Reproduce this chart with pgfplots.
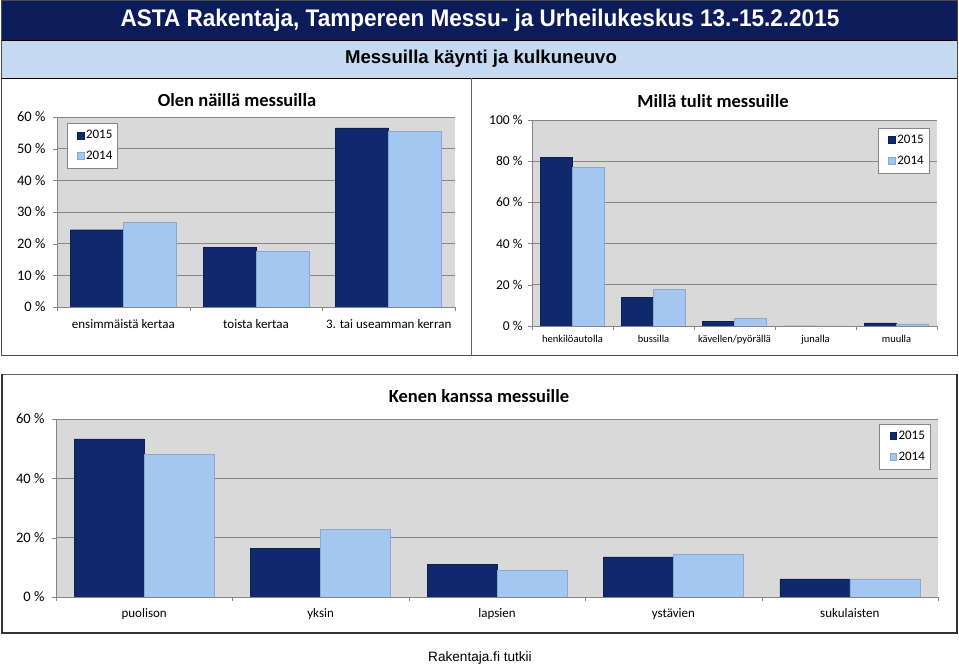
\documentclass[border=0pt]{standalone}
\usepackage{fontspec}
\setmainfont{Carlito}
\newfontfamily\arialn[FakeStretch=0.94]{Liberation Sans}
\newfontfamily\arial{Liberation Sans}
\usepackage{pgfplots}
\pgfplotsset{compat=1.18}
\definecolor{navy}{RGB}{12,28,90}
\definecolor{lband}{RGB}{197,217,241}
\definecolor{cA}{RGB}{16,40,108}
\definecolor{cB}{RGB}{163,199,240}
\definecolor{pgray}{RGB}{217,217,217}
\definecolor{ggray}{RGB}{134,134,134}
\pgfplotsset{
  excel/.style={
    anchor=south west, scale only axis,
    ybar=0pt,
    axis background/.style={fill=pgray},
    axis lines*=left, axis line style={draw=ggray,-},
    ymajorgrids, grid style={draw=ggray, line width=0.8pt},
    tick align=outside, major tick length=4pt,
    tick style={draw=ggray},
    xticklabels={},
    extra x tick style={major tick length=0pt},
    legend image code/.code={\path (0pt,0pt); \fill[##1] (7pt,-3.5pt) rectangle (13.5pt,3.5pt);},
    legend style={draw=ggray, fill=white, row sep=7pt, inner xsep=3pt, inner ysep=5pt,
      cells={anchor=west}},
  },
  s15/.style={fill=cA, draw=cA!80!black},
  s14/.style={fill=cB, draw=cB!85!black},
}
\begin{document}
\begin{tikzpicture}[x=1pt,y=1pt]
\path[use as bounding box] (0,0) rectangle (959,666);
\fill[white] (0,0) rectangle (959,666);
% upper panel
\fill[navy] (1,626) rectangle (957.5,665.5);
\fill[lband] (1,588) rectangle (957.5,626);
\draw[black, line width=0.8pt] (1,626)--(957.5,626) (1,588)--(957.5,588);
\draw[black!70, line width=1pt] (1,310) rectangle (957.5,665.5);
\draw[black!60, line width=0.8pt] (471,588)--(471,310);
\node[white, font=\arialn\bfseries\fontsize{24}{28}\selectfont] at (480,646) {ASTA Rakentaja, Tampereen Messu- ja Urheilukeskus 13.-15.2.2015};
\node[font=\arial\bfseries\fontsize{18.6}{20}\selectfont] at (481,607) {Messuilla käynti ja kulkuneuvo};
% lower panel
\draw[black!60, line width=0.8pt] (2,292) -- (957,292);
\draw[black!80, line width=1.5pt] (2,292) -- (2,33) -- (957,33) -- (957,292);
\node[font=\arial\fontsize{13.6}{16}\selectfont] at (480,8) {Rakentaja.fi tutkii};
% titles
\node[font=\bfseries\fontsize{18.5}{20}\selectfont] at (237,566) {Olen näillä messuilla};
\node[font=\bfseries\fontsize{18.5}{20}\selectfont] at (713,565) {Millä tulit messuille};
\node[font=\bfseries\fontsize{18.5}{20}\selectfont] at (479,270) {Kenen kanssa messuille};

% left chart
\begin{axis}[excel, at={(57pt,359pt)}, width=398pt, height=190pt,
  bar width=53pt, xmin=-0.5, xmax=2.5, ymin=0, ymax=60,
  ytick={0,10,...,60}, yticklabels={0 \%,10 \%,20 \%,30 \%,40 \%,50 \%,60 \%},
  xtick={-0.5,0.5,1.5,2.5},
  extra x ticks={0,1,2},
  extra x tick labels={ensimmäistä kertaa, toista kertaa, 3. tai useamman kerran},
  yticklabel style={font=\fontsize{14.5}{15}\selectfont, xshift=-4pt},
  xticklabel style={font=\fontsize{13}{14}\selectfont, yshift=-9pt},
  legend style={at={(0.025,0.968)}, anchor=north west, font=\fontsize{13}{14}\selectfont},
]
\addplot[s15] coordinates {(0,24.4) (1,18.9) (2,56.6)};
\addplot[s14] coordinates {(0,26.9) (1,17.6) (2,55.5)};
\legend{2015\hspace{5pt},2014\hspace{5pt}}
\end{axis}

% right chart
\begin{axis}[excel, at={(532pt,340pt)}, width=405pt, height=206pt,
  bar width=32pt, xmin=-0.5, xmax=4.5, ymin=0, ymax=100,
  ytick={0,20,...,100}, yticklabels={0 \%,20 \%,40 \%,60 \%,80 \%,100 \%},
  xtick={-0.5,0.5,1.5,2.5,3.5,4.5},
  extra x ticks={0,1,2,3,4},
  extra x tick labels={henkilöautolla, bussilla, kävellen/pyörällä, junalla, muulla},
  yticklabel style={font=\fontsize{13.5}{14}\selectfont, xshift=-2pt},
  xticklabel style={font=\fontsize{10.5}{12}\selectfont, yshift=-6pt},
  legend style={at={(0.98,0.961)}, anchor=north east, font=\fontsize{13}{14}\selectfont},
]
\addplot[s15] coordinates {(0,81.9) (1,13.8) (2,2.4) (3,0) (4,1.5)};
\addplot[s14] coordinates {(0,76.9) (1,17.8) (2,3.6) (3,0) (4,1.1)};
\legend{2015\hspace{5pt},2014\hspace{5pt}}
\end{axis}

% bottom chart
\begin{axis}[excel, at={(56pt,69pt)}, width=882pt, height=178pt,
  bar width=70pt, xmin=-0.5, xmax=4.5, ymin=0, ymax=60,
  ytick={0,20,40,60}, yticklabels={0 \%,20 \%,40 \%,60 \%},
  xtick={-0.5,0.5,1.5,2.5,3.5,4.5},
  extra x ticks={0,1,2,3,4},
  extra x tick labels={puolison, yksin, lapsien, ystävien, sukulaisten},
  yticklabel style={font=\fontsize{14.5}{15}\selectfont, xshift=-4pt},
  xticklabel style={font=\fontsize{13}{14}\selectfont, yshift=-8pt},
  legend style={at={(0.991,0.972)}, anchor=north east, font=\fontsize{13}{14}\selectfont},
]
\addplot[s15] coordinates {(0,53.3) (1,16.3) (2,11.1) (3,13.5) (4,6.1)};
\addplot[s14] coordinates {(0,48.1) (1,22.9) (2,9.0) (3,14.4) (4,6.1)};
\legend{2015\hspace{5pt},2014\hspace{5pt}}
\end{axis}
\end{tikzpicture}
\end{document}
